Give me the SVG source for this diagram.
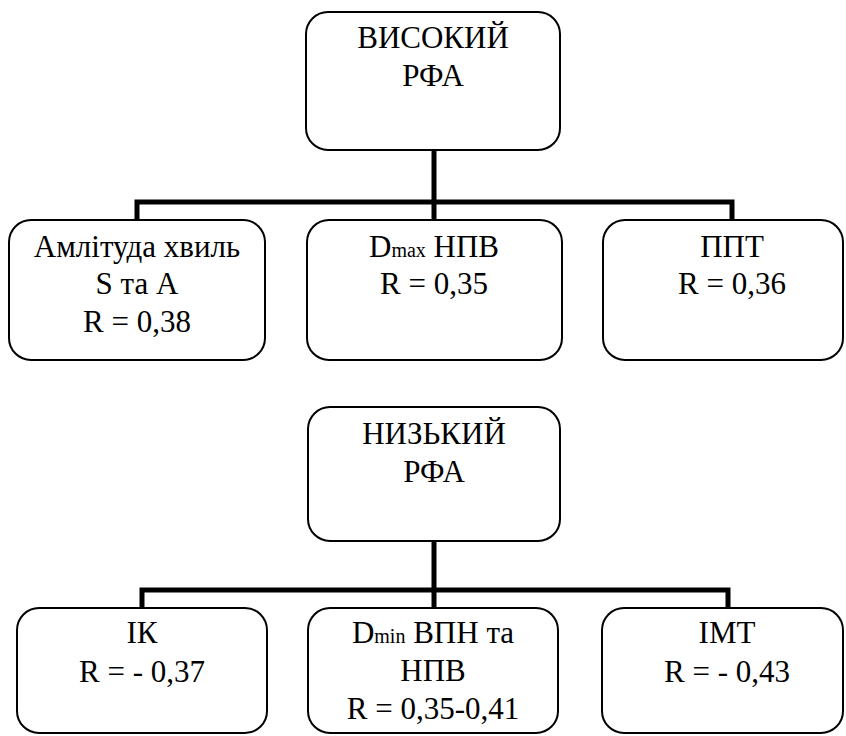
<svg xmlns="http://www.w3.org/2000/svg" width="846" height="736" viewBox="0 0 846 736">
<defs>
<style>
.box{fill:#fff;stroke:#000;stroke-width:2}
.c{fill:none;stroke:#000;stroke-width:5;stroke-linecap:butt;stroke-linejoin:miter}
</style>
</defs>
<rect width="846" height="736" fill="#fff"/>
<g id="connectors">
<path class="c" d="M434 150V202M137 220V202H732V220M434 202V220"/>
<path class="c" d="M434 541V590M142 608V590H728V608M434 590V608"/>
</g>
<g id="n-high">
<rect class="box" x="306" y="12" width="254" height="138" rx="22"/>
<text font-family="Liberation Serif" font-size="31" text-anchor="middle" style="font-family:'Liberation Serif',serif" x="433" y="48">ВИСОКИЙ</text>
<text font-family="Liberation Serif" font-size="31" text-anchor="middle" style="font-family:'Liberation Serif',serif" x="433" y="86">РФА</text>
</g>
<g id="n-amp">
<rect class="box" x="9" y="220" width="256" height="140" rx="22"/>
<text font-family="Liberation Serif" font-size="31" text-anchor="middle" style="font-family:'Liberation Serif',serif" x="137" y="257">Амлітуда хвиль</text>
<text font-family="Liberation Serif" font-size="31" text-anchor="middle" style="font-family:'Liberation Serif',serif" x="137" y="294">S та А</text>
<text font-family="Liberation Serif" font-size="31" text-anchor="middle" style="font-family:'Liberation Serif',serif" x="137" y="332">R = 0,38</text>
</g>
<g id="n-dmax">
<rect class="box" x="307" y="220" width="255" height="140" rx="22"/>
<text font-family="Liberation Serif" font-size="31" text-anchor="middle" style="font-family:'Liberation Serif',serif" x="434" y="257">D<tspan font-size="20">max</tspan> НПВ</text>
<text font-family="Liberation Serif" font-size="31" text-anchor="middle" style="font-family:'Liberation Serif',serif" x="434" y="294">R = 0,35</text>
</g>
<g id="n-ppt">
<rect class="box" x="603" y="220" width="240" height="140" rx="22"/>
<text font-family="Liberation Serif" font-size="31" text-anchor="middle" style="font-family:'Liberation Serif',serif" x="732" y="257">ППТ</text>
<text font-family="Liberation Serif" font-size="31" text-anchor="middle" style="font-family:'Liberation Serif',serif" x="732" y="294">R = 0,36</text>
</g>
<g id="n-low">
<rect class="box" x="308" y="407" width="252" height="134" rx="22"/>
<text font-family="Liberation Serif" font-size="31" text-anchor="middle" style="font-family:'Liberation Serif',serif" x="434" y="444">НИЗЬКИЙ</text>
<text font-family="Liberation Serif" font-size="31" text-anchor="middle" style="font-family:'Liberation Serif',serif" x="434" y="482">РФА</text>
</g>
<g id="n-ik">
<rect class="box" x="17" y="608" width="250" height="125" rx="22"/>
<text font-family="Liberation Serif" font-size="31" text-anchor="middle" style="font-family:'Liberation Serif',serif" x="142" y="643">ІК</text>
<text font-family="Liberation Serif" font-size="31" text-anchor="middle" style="font-family:'Liberation Serif',serif" x="142" y="682">R = - 0,37</text>
</g>
<g id="n-dmin">
<rect class="box" x="308" y="608" width="250" height="125" rx="22"/>
<text font-family="Liberation Serif" font-size="31" text-anchor="middle" style="font-family:'Liberation Serif',serif" x="433" y="643">D<tspan font-size="20">min</tspan> ВПН та</text>
<text font-family="Liberation Serif" font-size="31" text-anchor="middle" style="font-family:'Liberation Serif',serif" x="433" y="681">НПВ</text>
<text font-family="Liberation Serif" font-size="31" text-anchor="middle" style="font-family:'Liberation Serif',serif" x="433" y="719">R = 0,35-0,41</text>
</g>
<g id="n-imt">
<rect class="box" x="602" y="608" width="241" height="125" rx="22"/>
<text font-family="Liberation Serif" font-size="31" text-anchor="middle" style="font-family:'Liberation Serif',serif" x="727" y="643">ІМТ</text>
<text font-family="Liberation Serif" font-size="31" text-anchor="middle" style="font-family:'Liberation Serif',serif" x="727" y="682">R = - 0,43</text>
</g>
</svg>
